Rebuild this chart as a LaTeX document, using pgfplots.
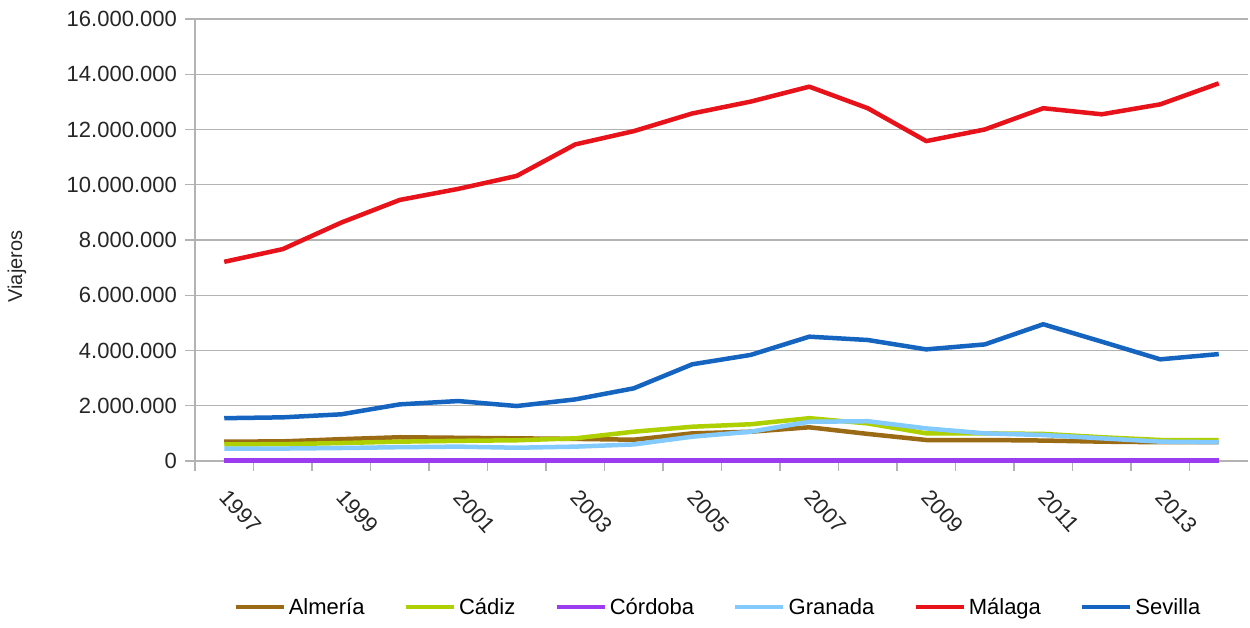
\documentclass[border=0pt]{standalone}
\usepackage{pgfplots}
\pgfplotsset{compat=1.18}
\usepackage{pgfplotstable}
\usepackage{fontspec}
\setmainfont{Liberation Sans}

\definecolor{calmeria}{HTML}{9A6A14}
\definecolor{ccadiz}{HTML}{AECF00}
\definecolor{ccordoba}{HTML}{9B3CF0}
\definecolor{cgranada}{HTML}{83CAFF}
\definecolor{cmalaga}{HTML}{E8121A}
\definecolor{csevilla}{HTML}{1565C0}
\definecolor{cgrid}{HTML}{B3B3B3}

\pgfplotstableread{
year Almeria Cadiz Cordoba Granada Malaga Sevilla
1997 700000 600000 20000 450000 7210000 1550000
1998 710000 610000 20000 450000 7670000 1580000
1999 790000 650000 20000 470000 8630000 1690000
2000 860000 700000 20000 500000 9450000 2050000
2001 840000 730000 20000 520000 9850000 2170000
2002 820000 750000 20000 480000 10320000 1990000
2003 800000 820000 20000 520000 11460000 2230000
2004 770000 1060000 20000 600000 11940000 2630000
2005 1000000 1240000 20000 880000 12580000 3500000
2006 1060000 1330000 20000 1060000 13010000 3840000
2007 1220000 1550000 20000 1420000 13550000 4500000
2008 980000 1360000 20000 1440000 12770000 4380000
2009 760000 1000000 20000 1180000 11580000 4040000
2010 760000 1000000 20000 1000000 12000000 4220000
2011 740000 980000 20000 940000 12770000 4950000
2012 700000 860000 20000 820000 12550000 4320000
2013 680000 760000 20000 700000 12910000 3680000
2014 680000 760000 20000 680000 13670000 3870000
}\datatable

\begin{document}
\begin{tikzpicture}
\path[use as bounding box] (0pt,0pt) rectangle (1250pt,628pt);
\begin{axis}[
  at={(195pt,167pt)}, anchor=south west,
  scale only axis, width=1053pt, height=442pt,
  xmin=1996.5, xmax=2014.5, ymin=0, ymax=16000000,
  axis x line*=bottom, axis y line*=left,
  axis line style={cgrid, line width=1.2pt},
  xtick={1997,1999,...,2013},
  xticklabels={1997,1999,2001,2003,2005,2007,2009,2011,2013},
  major x tick style={draw=none},
  minor xtick={1996.5,1997.5,...,2013.5},
  minor x tick style={cgrid, line width=1.2pt},
  minor tick length=10pt,
  ytick={0,2000000,...,16000000},
  major tick length=10pt,
  tick align=outside,
  ytick style={cgrid, line width=1.2pt},
  ymajorgrids,
  grid style={cgrid, line width=1.2pt},
  scaled y ticks=false,
  /pgf/number format/assume math mode=true,
  yticklabel style={/pgf/number format/fixed, /pgf/number format/precision=0, /pgf/number format/1000 sep={.}},
  tick label style={font=\fontsize{22}{26}\selectfont, text=black!85},
  xticklabel style={rotate=-48, anchor=west, inner sep=0pt},
  xticklabel shift=22pt,
  yticklabel style={anchor=east, inner sep=0pt},
  yticklabel shift=8pt,
  ylabel={Viajeros},
  ylabel style={at={(axis description cs:-0.169,0.44)}, anchor=center, rotate=0, font=\fontsize{20}{22}\selectfont, text=black!85},
  legend columns=6,
  legend style={draw=none, fill=none, at={(0.496,-0.330)}, anchor=center,
    font=\fontsize{22}{26}\selectfont,
    /tikz/every even column/.append style={column sep=38pt},
    /tikz/every odd column/.append style={column sep=2pt},
    nodes={inner sep=1pt}},
  legend image code/.code={\draw[#1, line width=4.5pt] (0pt,0pt) -- (48pt,0pt);},
  every axis plot/.append style={line width=4.5pt, line join=round, mark=none},
  clip=false,
]
\addplot[calmeria] table[x=year, y=Almeria] {\datatable};
\addlegendentry{Almería}
\addplot[ccadiz] table[x=year, y=Cadiz] {\datatable};
\addlegendentry{Cádiz}
\addplot[ccordoba] table[x=year, y=Cordoba] {\datatable};
\addlegendentry{Córdoba}
\addplot[cgranada] table[x=year, y=Granada] {\datatable};
\addlegendentry{Granada}
\addplot[cmalaga] table[x=year, y=Malaga] {\datatable};
\addlegendentry{Málaga}
\addplot[csevilla] table[x=year, y=Sevilla] {\datatable};
\addlegendentry{Sevilla}
\end{axis}
\end{tikzpicture}
\end{document}
